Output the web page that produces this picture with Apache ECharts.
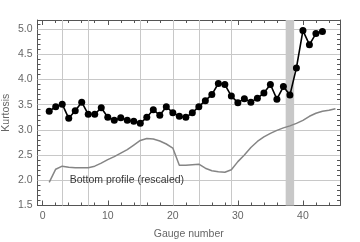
<!DOCTYPE html>
<html>
<head>
<meta charset="utf-8">
<script src="https://cdn.jsdelivr.net/npm/echarts@6/dist/echarts.min.js"></script>
<style>
html,body{margin:0;padding:0;background:#fff;}
#c{width:360px;height:242px;}
</style>
</head>
<body>
<div id="c"></div>
<script>
const gauges = [1,2,3,4,5,6,7,8,9,10,11,12,13,14,15,16,17,18,19,20,21,22,23,24,25,26,27,28,29,30,31,32,33,34,35,36,37,38,39,40,41,42,43];
const kurtosis = [3.37,3.46,3.51,3.23,3.38,3.55,3.31,3.31,3.44,3.25,3.19,3.24,3.19,3.17,3.13,3.25,3.40,3.29,3.46,3.34,3.27,3.25,3.34,3.46,3.58,3.70,3.92,3.90,3.67,3.54,3.62,3.55,3.63,3.73,3.90,3.61,3.86,3.69,4.23,4.97,4.69,4.91,4.95];
const profileGauges = [1,2,3,4,5,6,7,8,9,10,11,12,13,14,15,16,17,18,19,20,21,22,23,24,25,26,27,28,29,30,31,32,33,34,35,36,37,38,39,40,41,42,43,44,45];
const profile = [1.96,2.22,2.28,2.26,2.25,2.25,2.25,2.28,2.34,2.41,2.47,2.54,2.61,2.70,2.79,2.83,2.82,2.78,2.72,2.64,2.30,2.30,2.31,2.32,2.24,2.19,2.17,2.16,2.21,2.37,2.50,2.65,2.77,2.86,2.93,2.99,3.04,3.08,3.13,3.19,3.27,3.33,3.37,3.39,3.42];
const gridX = [3,7,15,20,24,29];
const gridY = [2.0,2.5,3.0,3.5,4.0,4.5,5.0];
const band = [37.35,38.65];
const xMajor = [0,10,20,30,40];
const xMinor = [2,4,6,8,12,14,16,18,22,24,26,28,32,34,36,38,42,44];
const yMajor = [1.5,2.0,2.5,3.0,3.5,4.0,4.5,5.0];
const yMinor = [1.6,1.7,1.8,1.9,2.1,2.2,2.3,2.4,2.6,2.7,2.8,2.9,3.1,3.2,3.3,3.4,3.6,3.7,3.8,3.9,4.1,4.2,4.3,4.4,4.6,4.7,4.8,4.9,5.1];
const profileLabel = 'Bottom profile (rescaled)';
const labelPos = [4.15, 2.0];
const xName = 'Gauge number';
const yName = 'Kurtosis';

const XMIN = -0.8, XMAX = 45.7, YMIN = 1.5, YMAX = 5.18;
const frame = '#555';
const labelColor = '#666';
const font = 'Liberation Sans, Arial, sans-serif';

function xAx(pos, vals, len, line, labels) {
  return {
    type: 'value', position: pos, min: XMIN, max: XMAX,
    axisLine: {show: line, onZero: false, lineStyle: {color: frame, width: 1}},
    axisTick: {show: true, inside: true, length: len, customValues: vals, lineStyle: {color: frame, width: 1}},
    axisLabel: {show: labels, customValues: vals, color: labelColor, fontSize: 10.5, fontFamily: font, margin: 5},
    splitLine: {show: false}
  };
}
function yAx(pos, vals, len, line, labels) {
  return {
    type: 'value', position: pos, min: YMIN, max: YMAX,
    axisLine: {show: line, onZero: false, lineStyle: {color: frame, width: 1}},
    axisTick: {show: true, inside: true, length: len, customValues: vals, lineStyle: {color: frame, width: 1}},
    axisLabel: {show: labels, customValues: vals, color: labelColor, fontSize: 10.5, fontFamily: font, margin: 5,
      formatter: v => v.toFixed(1)},
    splitLine: {show: false}
  };
}

const xb = xAx('bottom', xMajor, 5, true, true);
xb.name = xName; xb.nameLocation = 'middle'; xb.nameGap = 23; xb.nameMoveOverlap = false;
xb.nameTextStyle = {color: labelColor, fontSize: 10.5, fontFamily: font};
const yl = yAx('left', yMajor, 5, true, true);
yl.name = yName; yl.nameLocation = 'middle'; yl.nameGap = 26; yl.nameMoveOverlap = false;
yl.nameTextStyle = {color: labelColor, fontSize: 10.5, fontFamily: font};

const chart = echarts.init(document.getElementById('c'), null, {renderer: 'canvas'});
chart.setOption({
  animation: false,
  backgroundColor: '#fff',
  grid: {left: 37.5, right: 20, top: 20, bottom: 36.5, containLabel: false, outerBoundsMode: 'none'},
  xAxis: [xb, xAx('bottom', xMinor, 3, false, false), xAx('top', xMajor, 5, true, false), xAx('top', xMinor, 3, false, false)],
  yAxis: [yl, yAx('left', yMinor, 3, false, false), yAx('right', yMajor, 5, true, false), yAx('right', yMinor, 3, false, false)],
  series: [
    {
      type: 'line', data: [], z: 1, silent: true,
      markLine: {
        silent: true, symbol: 'none', animation: false, z: 1,
        label: {show: false},
        lineStyle: {color: '#c8c8c8', width: 1, type: 'solid'},
        data: gridX.map(v => ({xAxis: v})).concat(gridY.map(v => ({yAxis: v})))
      },
      markArea: {
        silent: true, z: 2,
        itemStyle: {color: '#c8c8c8'},
        data: [[{xAxis: band[0]}, {xAxis: band[1]}]]
      }
    },
    {
      type: 'line', z: 10, silent: true,
      data: profileGauges.map((g, i) => [g, profile[i]]),
      showSymbol: false, symbol: 'none',
      lineStyle: {color: '#858585', width: 1.5}
    },
    {
      type: 'line', z: 11, silent: true,
      data: gauges.map((g, i) => [g, kurtosis[i]]),
      symbol: 'circle', symbolSize: 7, showSymbol: true,
      itemStyle: {color: '#000'},
      lineStyle: {color: '#000', width: 1.6}
    },
    {
      type: 'scatter', z: 12, silent: true,
      data: [labelPos], symbolSize: 0,
      label: {show: true, position: 'right', distance: 0, formatter: profileLabel,
        color: '#000', fontSize: 10.5, fontFamily: font}
    }
  ]
});
</script>
</body>
</html>
